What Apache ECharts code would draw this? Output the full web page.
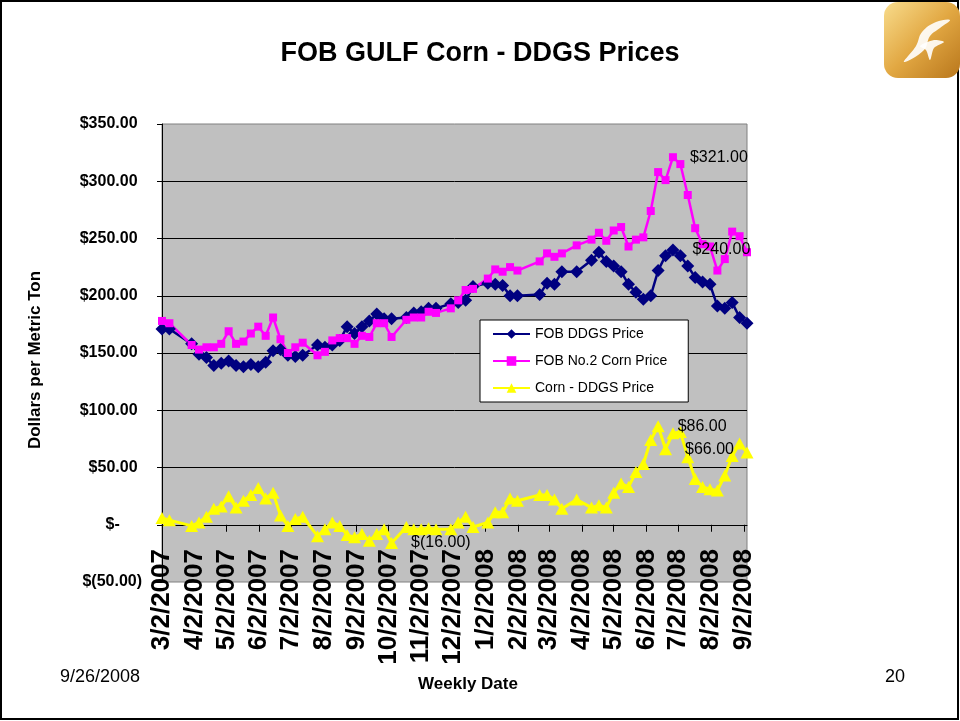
<!DOCTYPE html>
<html lang="en">
<head>
<meta charset="UTF-8" />
<title>FOB GULF Corn - DDGS Prices</title>
<script src="https://cdn.jsdelivr.net/npm/echarts@6.0.0/dist/echarts.min.js"></script>
<style>
  html, body { margin: 0; padding: 0; background: #fff; }
  #main { width: 960px; height: 721px; }
</style>
</head>
<body>
<div id="main"></div>
<script>
// weekly Friday quotes, weeks without a quote are simply missing
var weekDates = [
  '2007-03-02', '2007-03-09',
  '2007-03-30', '2007-04-06', '2007-04-13', '2007-04-20', '2007-04-27', '2007-05-04', '2007-05-11', '2007-05-18',
  '2007-05-25', '2007-06-01', '2007-06-08', '2007-06-15', '2007-06-22', '2007-06-29', '2007-07-06', '2007-07-13',
  '2007-07-27', '2007-08-03', '2007-08-10', '2007-08-17', '2007-08-24', '2007-08-31', '2007-09-07', '2007-09-14',
  '2007-09-21', '2007-09-28', '2007-10-05',
  '2007-10-19', '2007-10-26', '2007-11-02', '2007-11-09', '2007-11-16',
  '2007-11-30', '2007-12-07', '2007-12-14', '2007-12-21',
  '2008-01-04', '2008-01-11', '2008-01-18', '2008-01-25', '2008-02-01',
  '2008-02-22', '2008-02-29', '2008-03-07', '2008-03-14',
  '2008-03-28',
  '2008-04-11', '2008-04-18', '2008-04-25', '2008-05-02', '2008-05-09', '2008-05-16', '2008-05-23', '2008-05-30',
  '2008-06-06', '2008-06-13', '2008-06-20', '2008-06-27', '2008-07-04', '2008-07-11', '2008-07-18', '2008-07-25',
  '2008-08-01', '2008-08-08', '2008-08-15', '2008-08-22', '2008-08-29', '2008-09-05'
];

var ddgsPrice = [
  171, 171,
  158, 149, 146, 139, 141, 143, 139, 138, 140, 138, 142, 152, 153, 148, 147, 148,
  157, 155, 157, 161, 173, 167, 173, 178, 184, 180, 180,
  181, 185, 186, 189, 189,
  193, 194, 196, 208,
  211, 210, 209, 200, 200,
  201, 211, 210, 221,
  221,
  231, 238, 230, 226, 221, 210, 203, 197, 200, 222, 235, 240, 235, 226, 216, 212, 210, 191, 189, 194, 181, 176
];

var cornPrice = [
  178, 176,
  157, 153, 155, 155, 158, 169, 158, 160, 167, 173, 165, 181, 162, 150, 155, 159,
  148, 151, 161, 163, 163, 158, 165, 164, 176, 176, 164,
  179, 181, 181, 186, 185,
  189, 196, 205, 206,
  215, 223, 221, 225, 222,
  230, 237, 234, 237,
  244,
  249, 255, 248, 257, 260, 243, 249, 251, 274, 308, 301, 321, 315, 288, 259, 245, 243, 222, 232, 256, 252, 238
];

var spreadPrice = [
  6, 4,
  -1, 2, 7, 14, 16, 25, 15, 21, 26, 32, 23, 28, 8, -1, 5, 7,
  -10, -4, 2, -1, -9, -11, -8, -14, -8, -4, -16,
  -2, -4, -4, -3, -4,
  -4, 2, 7, -2,
  2, 11, 11, 23, 21,
  26, 26, 22, 14,
  22,
  15, 17, 15, 28, 36, 33, 46, 53, 74, 86, 66, 80, 81, 59, 40, 33, 31, 30, 43, 60, 71, 63
];

// points that carry a value label
var ddgsLabelDates = ['2008-06-27'];
var cornLabelDates = ['2008-06-27'];
var spreadLabelDates = ['2007-10-05', '2008-06-13', '2008-06-20'];

var tickDates = [
  '2007-03-02', '2007-04-02', '2007-05-02', '2007-06-02', '2007-07-02', '2007-08-02', '2007-09-02',
  '2007-10-02', '2007-11-02', '2007-12-02', '2008-01-02', '2008-02-02', '2008-03-02', '2008-04-02',
  '2008-05-02', '2008-06-02', '2008-07-02', '2008-08-02', '2008-09-02'
];

var FONT = '"Liberation Sans", Arial, sans-serif';

function toTime(s) {
  var p = s.split('-');
  return new Date(+p[0], +p[1] - 1, +p[2]).getTime();
}

function money(v) {
  if (v === 0) return '$-     ';
  if (v < 0) return '$(' + Math.abs(v).toFixed(2) + ')';
  return '$' + v.toFixed(2) + ' ';
}

function pairs(values, labelDates) {
  return weekDates.map(function (d, i) {
    var item = { value: [toTime(d), values[i]] };
    if (labelDates.indexOf(d) >= 0) item.label = { show: true };
    return item;
  });
}

var valueLabel = {
  show: false,
  position: 'right',
  distance: 13,
  fontSize: 16,
  fontFamily: FONT,
  color: '#000',
  formatter: function (p) { return money(p.value[1]); }
};

var tickTimes = tickDates.map(toTime);

var myChart = echarts.init(document.getElementById('main'));

var option = {
  animation: false,
  backgroundColor: '#fff',
  title: {
    text: 'FOB GULF Corn - DDGS Prices',
    left: 'center',
    top: 35,
    textStyle: { fontSize: 27, fontWeight: 'bold', fontFamily: FONT, color: '#000' }
  },
  grid: {
    left: 162,
    right: 213,
    top: 124,
    bottom: 139,
    show: true,
    backgroundColor: '#C0C0C0',
    borderColor: '#808080',
    borderWidth: 1
  },
  legend: {
    orient: 'vertical',
    left: 480,
    top: 320,
    backgroundColor: '#fff',
    borderColor: '#000',
    borderWidth: 1,
    borderRadius: 0,
    padding: [7, 21, 7, 12],
    itemWidth: 37,
    itemHeight: 12,
    itemGap: 13,
    textStyle: { fontSize: 14, fontFamily: FONT, color: '#000' }
  },
  xAxis: {
    // dates as millisecond numbers on a plain value axis
    type: 'value',
    min: toTime('2007-03-02'),
    max: toTime('2008-09-05'),
    axisLine: { onZero: true, lineStyle: { color: '#000', width: 1 } },
    axisTick: { show: true, customValues: tickTimes, length: 7, lineStyle: { color: '#000' } },
    axisLabel: {
      customValues: tickTimes,
      rotate: 90,
      margin: -33,
      fontSize: 26,
      fontWeight: 'bold',
      fontFamily: FONT,
      color: '#000',
      formatter: function (v) {
        var d = new Date(v);
        return (d.getMonth() + 1) + '/' + d.getDate() + '/' + d.getFullYear();
      }
    },
    splitLine: { show: false }
  },
  yAxis: {
    type: 'value',
    min: -50,
    max: 350,
    interval: 50,
    axisLine: { show: true, lineStyle: { color: '#000', width: 1 } },
    axisTick: { show: true, length: 5, lineStyle: { color: '#000' } },
    axisLabel: {
      margin: 20,
      fontSize: 16,
      fontWeight: 'bold',
      fontFamily: FONT,
      color: '#000',
      formatter: money
    },
    splitLine: { showMinLine: false, showMaxLine: false, lineStyle: { color: '#000', width: 1 } }
  },
  series: [
    {
      name: 'FOB DDGS Price',
      type: 'line',
      data: pairs(ddgsPrice, ddgsLabelDates),
      symbol: 'diamond',
      symbolSize: [13, 13],
      itemStyle: { color: '#000080' },
      lineStyle: { color: '#000080', width: 2.5 },
      label: valueLabel
    },
    {
      name: 'FOB No.2 Corn Price',
      type: 'line',
      data: pairs(cornPrice, cornLabelDates),
      symbol: 'rect',
      symbolSize: 8,
      itemStyle: { color: '#FF00FF' },
      lineStyle: { color: '#FF00FF', width: 2.5 },
      label: valueLabel
    },
    {
      name: 'Corn - DDGS Price',
      type: 'line',
      data: pairs(spreadPrice, spreadLabelDates),
      symbol: 'triangle',
      symbolSize: [13, 12],
      itemStyle: { color: '#FFFF00' },
      lineStyle: { color: '#FFFF00', width: 3 },
      label: valueLabel
    }
  ],
  graphic: [
    {
      type: 'rect',
      shape: { x: 1, y: 1, width: 957, height: 718 },
      style: { fill: 'none', stroke: '#000', lineWidth: 2 },
      silent: true,
      z: -1
    },
    {
      type: 'group',
      x: 884,
      y: 2,
      children: [
        {
          type: 'rect',
          shape: { x: 0, y: 0, width: 76, height: 76, r: 14 },
          style: {
            fill: new echarts.graphic.LinearGradient(0, 0, 1, 1, [
              { offset: 0, color: '#F8DC8C' },
              { offset: 0.5, color: '#E2A843' },
              { offset: 1, color: '#B9771C' }
            ])
          }
        },
        {
          type: 'polygon',
          shape: { points: [[20, 60], [32, 44], [38, 30], [52, 20], [66, 18], [56, 26], [46, 34], [40, 48]], smooth: 0.4 },
          style: { fill: '#fff', opacity: 0.9 }
        },
        {
          type: 'polygon',
          shape: { points: [[36, 44], [50, 38], [60, 40], [50, 46], [46, 58], [42, 48]], smooth: 0.3 },
          style: { fill: '#fff', opacity: 0.9 }
        }
      ]
    },
    {
      type: 'text',
      x: 35,
      y: 360,
      rotation: Math.PI / 2,
      style: {
        text: 'Dollars per Metric Ton',
        fontSize: 17,
        fontWeight: 'bold',
        fontFamily: FONT,
        fill: '#000',
        align: 'center',
        verticalAlign: 'middle'
      }
    },
    {
      type: 'text',
      x: 468,
      y: 684,
      style: {
        text: 'Weekly Date',
        fontSize: 17,
        fontWeight: 'bold',
        fontFamily: FONT,
        fill: '#000',
        align: 'center',
        verticalAlign: 'middle'
      }
    },
    {
      type: 'text',
      x: 60,
      y: 677,
      style: {
        text: '9/26/2008',
        fontSize: 18,
        fontFamily: FONT,
        fill: '#000',
        align: 'left',
        verticalAlign: 'middle'
      }
    },
    {
      type: 'text',
      x: 905,
      y: 677,
      style: {
        text: '20',
        fontSize: 18,
        fontFamily: FONT,
        fill: '#000',
        align: 'right',
        verticalAlign: 'middle'
      }
    }
  ]
};

myChart.setOption(option);
</script>
</body>
</html>
